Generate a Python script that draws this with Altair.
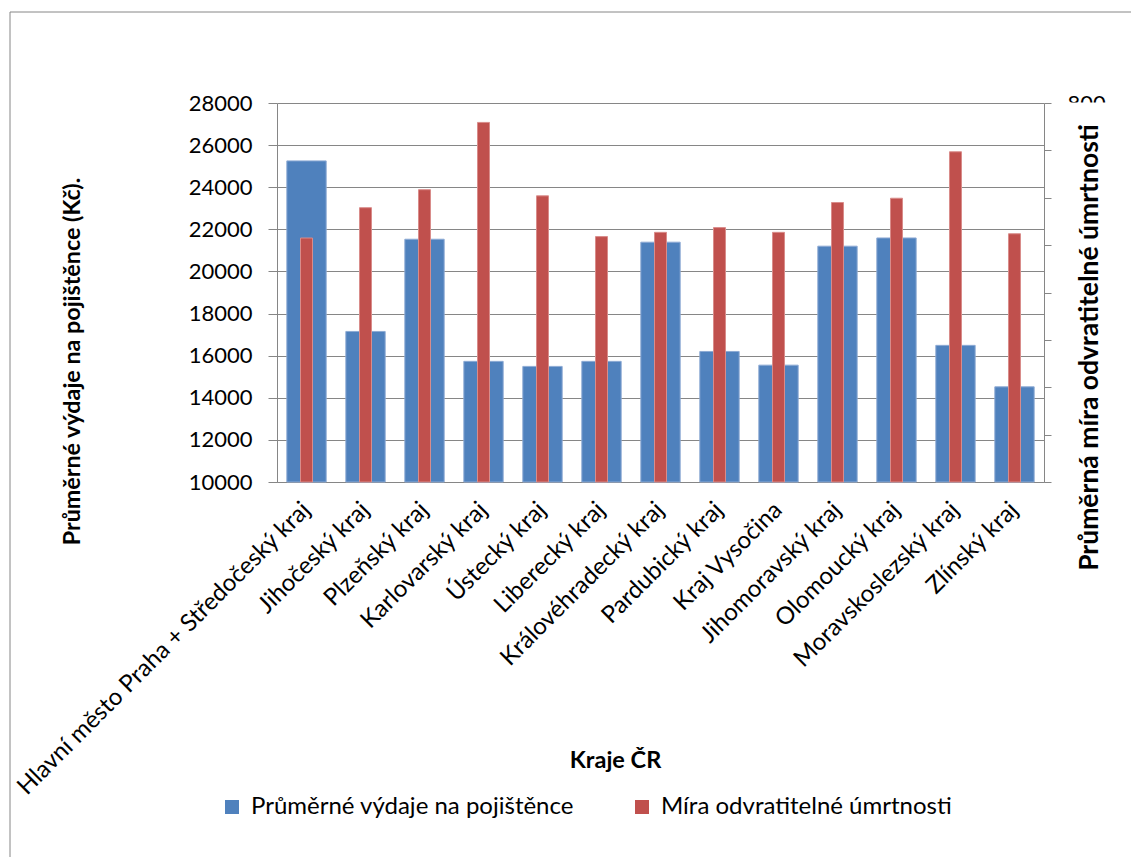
import altair as alt
import pandas as pd

# Regions of the Czech Republic
regions = [
    "Hlavní město Praha + Středočeský kraj",
    "Jihočeský kraj",
    "Plzeňský kraj",
    "Karlovarský kraj",
    "Ústecký kraj",
    "Liberecký kraj",
    "Královéhradecký kraj",
    "Pardubický kraj",
    "Kraj Vysočina",
    "Jihomoravský kraj",
    "Olomoucký kraj",
    "Moravskoslezský kraj",
    "Zlínský kraj",
]
# Average health-care spending per insured person (CZK), left axis
expenses = [25250, 17150, 21530, 15730, 15490, 15730, 21390, 16200, 15550, 21200, 21590, 16490, 14520]
# Average avoidable mortality rate, right axis
mortality = [515, 579, 617, 759, 604, 518, 527, 537, 527, 590, 599, 697, 524]

series_names = ["Průměrné výdaje na pojištěnce", "Míra odvratitelné úmrtnosti"]
colors = ["#4F81BD", "#C0504D"]

left_ticks = list(range(10000, 28001, 2000))
right_ticks = list(range(0, 801, 100))

df = pd.DataFrame({
    "region": regions,
    "expenses": expenses,
    "mortality": mortality,
    "s_exp": [series_names[0]] * len(regions),
    "s_mort": [series_names[1]] * len(regions),
})

FONT = "Lato"
GRAY = "#868686"
W, H = 767, 379
PAD = {"left": 277, "top": 103, "right": 1131 - 277 - W, "bottom": 857 - 103 - H}

color_scale = alt.Scale(domain=series_names, range=colors)
legend = alt.Legend(
    title=None,
    orient="none",
    direction="horizontal",
    legendX=-57,
    legendY=692,
    symbolType="square",
    symbolSize=196,
    symbolStrokeWidth=0,
    symbolOpacity=1,
    labelFont=FONT,
    labelFontSize=24,
    labelColor="black",
    labelOffset=7,
    labelLimit=600,
    columnPadding=56,
    padding=0,
)

x_enc = alt.X(
    "region:N",
    sort=regions,
    scale=alt.Scale(paddingInner=0.333, paddingOuter=0.1667),
    axis=alt.Axis(
        title="Kraje ČR",
        labelAngle=-45,
        labelAlign="right",
        labelBaseline="middle",
        labelFontSize=24,
        labelPadding=24,
        labelLimit=600,
        ticks=False,
        titleFontSize=23.5,
        titleFontWeight="bold",
        titleX=338,
        titleY=285,
        titleAlign="center",
        titleBaseline="alphabetic",
    ),
)

base = alt.Chart(df)

bars_exp = base.mark_bar(stroke="#8DAAD4", strokeWidth=1).encode(
    x=x_enc,
    y=alt.Y(
        "expenses:Q",
        scale=alt.Scale(domain=[10000, 28000], zero=False, nice=False),
        axis=alt.Axis(
            values=left_ticks,
            format="d",
            grid=True,
            tickSize=9,
            labelFontSize=22,
            labelPadding=16,
            title="Průměrné výdaje na pojištěnce (Kč).",
            titleFontSize=23.3,
            titleFontWeight="bold",
            titleAngle=270,
            titleX=-198,
            titleY=258,
            titleAlign="center",
            titleBaseline="alphabetic",
        ),
    ),
    y2=alt.datum(10000),
    color=alt.Color("s_exp:N", scale=color_scale, legend=legend),
)

bars_mort = base.mark_bar(width=12, stroke="#D98C8A", strokeWidth=1).encode(
    x=alt.X("region:N", sort=regions),
    y=alt.Y(
        "mortality:Q",
        scale=alt.Scale(domain=[0, 800], nice=False),
        axis=alt.Axis(
            orient="right",
            values=right_ticks,
            labelExpr="datum.value == 800 ? '800' : ''",
            grid=False,
            tickSize=7,
            labelFontSize=22,
            labelPadding=16,
            title="Průměrná míra odvratitelné úmrtnosti",
            titleFontSize=26.5,
            titleFontWeight="bold",
            titleAngle=270,
            titleX=53,
            titleY=244,
            titleAlign="center",
            titleBaseline="alphabetic",
        ),
    ),
    color=alt.Color("s_mort:N", scale=color_scale, legend=legend),
)

one = alt.Chart(pd.DataFrame({"k": [0]}))

# white box that hides the secondary axis labels below its top value
label_cover = one.mark_rect(color="white").encode(
    x=alt.value(W + 14), x2=alt.value(W + 85),
    y=alt.value(-0.5), y2=alt.value(16),
)

# chart-area frame (left and top edges)
frame_left = one.mark_rule(color=GRAY, strokeWidth=1).encode(
    x=alt.value(-267), y=alt.value(-91), y2=alt.value(H + 400),
)
frame_top = one.mark_rule(color=GRAY, strokeWidth=1).encode(
    x=alt.value(-267), x2=alt.value(W + 200), y=alt.value(-91),
)

chart = (
    alt.layer(bars_exp, bars_mort, label_cover, frame_left, frame_top)
    .resolve_scale(y="independent")
    .properties(
        width=W,
        height=H,
        padding=PAD,
        autosize=alt.AutoSizeParams(type="none"),
        background="white",
    )
    .configure_view(stroke=None)
    .configure_axis(
        labelFont=FONT,
        titleFont=FONT,
        labelColor="black",
        titleColor="black",
        domainColor=GRAY,
        tickColor=GRAY,
        gridColor=GRAY,
        domainWidth=1,
        tickWidth=1,
        gridWidth=1,
    )
)

chart.save("out.html", embed_options={"renderer": "svg", "actions": False})
